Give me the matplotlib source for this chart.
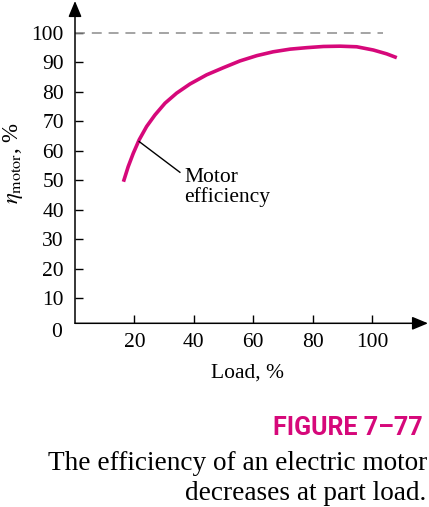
import matplotlib
matplotlib.use("Agg")
import matplotlib.pyplot as plt

# values
load = [16.3, 17.9, 19.6, 21.6, 24.1, 26.9, 30.3, 34.2, 38.7, 44.3, 49.9, 55.5,
        61.2, 66.7, 72.4, 78.0, 83.6, 89.2, 94.8, 100.4, 104.9, 108.3]
eff = [49.5, 54.6, 59.1, 63.7, 68.2, 72.1, 76.1, 79.5, 82.6, 85.7, 88.1, 90.4,
       92.2, 93.5, 94.4, 94.9, 95.3, 95.4, 95.2, 94.1, 92.8, 91.5]
x_ticks = [20, 40, 60, 80, 100]
y_ticks = [10, 20, 30, 40, 50, 60, 70, 80, 90, 100]
ideal = 100
ideal_end = 103.8

plt.rcParams['font.family'] = ['Liberation Serif', 'DejaVu Serif']
plt.rcParams['mathtext.fontset'] = 'stix'

magenta = '#d6087a'

fig = plt.figure(figsize=(4.29, 5.07), dpi=100)
ax = fig.add_axes([75/429, 1 - 323.3/507, 353/429, 322.3/507])
ax.set_xlim(0, 118.8)
ax.set_ylim(1.56, 110.7)

for s in ax.spines.values():
    s.set_visible(False)

# axes with arrow heads
ax.annotate('', xy=(1, 0), xytext=(0, 0), xycoords='axes fraction',
            arrowprops=dict(arrowstyle='-|>,head_length=0.6,head_width=0.25',
                            color='black', lw=1.1, mutation_scale=16,
                            shrinkA=0, shrinkB=0))
ax.annotate('', xy=(0, 1), xytext=(0, 0), xycoords='axes fraction',
            arrowprops=dict(arrowstyle='-|>,head_length=0.6,head_width=0.25',
                            color='black', lw=1.1, mutation_scale=16,
                            shrinkA=0, shrinkB=0))

ax.plot([0, ideal_end], [ideal, ideal], color='#8c8c8c', lw=1.1, dashes=(6.5, 4.5))
ax.plot(load, eff, color=magenta, lw=2.6, solid_capstyle='butt',
        solid_joinstyle='round')

ax.set_xticks(x_ticks)
ax.set_yticks(y_ticks)
ax.tick_params(direction='in', length=5.5, width=1.0, labelsize=15.5, pad=7)
ax.tick_params(axis='y', pad=8)

ax.text(-4.5, 1.56, '0', fontsize=15.5, ha='right', va='top')

ax.plot([21.6, 35.3], [63.1, 52.7], color='black', lw=1.0)
ax.text(36.7, 47.6, 'Motor\nefficiency', fontsize=15.5, ha='left', va='center',
        linespacing=1.05)

fig.text(248/429, 1 - 373/507, 'Load, %', fontsize=15.5, ha='center', va='center')
fig.text(13/429, 1 - 163/507, r'$\eta_{\mathrm{motor}}$, %', fontsize=16.5,
         rotation=90, ha='center', va='center')

fig.text(423/429, 1 - 435/507, 'FIGURE 7\u201377', color=magenta, fontsize=18,
         fontweight='bold', family=['Roboto', 'DejaVu Sans'],
         ha='right', va='baseline')
fig.text(427/429, 1 - 470/507, 'The efficiency of an electric motor', fontsize=19.6,
         ha='right', va='baseline')
fig.text(426/429, 1 - 500/507, 'decreases at part load.', fontsize=19.6,
         ha='right', va='baseline')

fig.savefig('out.png', dpi=100)
